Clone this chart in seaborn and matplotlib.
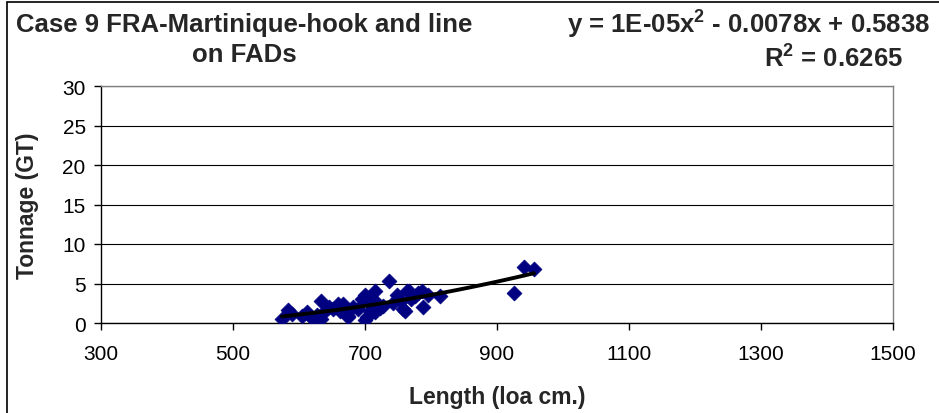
import numpy as np
import pandas as pd
import matplotlib
matplotlib.use("Agg")
import matplotlib.pyplot as plt
import seaborn as sns
from matplotlib.patches import Rectangle

# Length (loa cm.) and tonnage (GT)
length_cm = [574, 583, 590, 605, 612, 618, 621, 627, 634, 634, 640, 645, 652,
             659, 662, 667, 674, 674, 682, 690, 695, 700, 700, 703, 705, 708,
             712, 715, 715, 718, 722, 728, 737, 742, 748, 754, 758, 761, 763,
             766, 770, 776, 780, 786, 788, 795, 814, 925, 941, 956]
tonnage_gt = [0.5, 1.6, 1.2, 0.9, 1.4, 0.8, 0.5, 1.0, 2.8, 0.5, 1.5, 2.0, 1.8,
              2.4, 1.5, 2.4, 0.9, 0.8, 2.0, 1.8, 3.0, 3.5, 0.4, 0.8, 3.0, 1.5,
              2.0, 4.1, 1.4, 2.5, 1.9, 2.2, 5.3, 2.5, 3.5, 2.8, 1.8, 1.5, 4.1,
              4.1, 3.0, 3.4, 3.8, 4.1, 2.0, 3.5, 3.4, 3.8, 7.1, 6.8]

x_ticks = [300, 500, 700, 900, 1100, 1300, 1500]
y_ticks = [0, 5, 10, 15, 20, 25, 30]

title_text = "Case 9 FRA-Martinique-hook and line\non FADs"
eq_text = r"y = 1E-05x$^{\mathbf{2}}$ - 0.0078x + 0.5838"
r2_text = r"R$^{\mathbf{2}}$ = 0.6265"

df = pd.DataFrame({"length": length_cm, "tonnage": tonnage_gt})

sns.set_theme(style="white")
plt.rcParams["font.family"] = ["Liberation Sans", "DejaVu Sans"]
plt.rcParams["mathtext.fontset"] = "custom"
plt.rcParams["mathtext.bf"] = "Liberation Sans:bold"
plt.rcParams["mathtext.rm"] = "Liberation Sans:bold"

fig = plt.figure(figsize=(9.39, 4.14), dpi=100)
ax = fig.add_axes([101 / 939, 1 - 324 / 414, (893 - 101) / 939, (324 - 87) / 414])

sns.scatterplot(data=df, x="length", y="tonnage", ax=ax, marker="D", s=58,
                color="#000080", edgecolor="#000080", linewidth=0.5, zorder=3)
sns.regplot(data=df, x="length", y="tonnage", ax=ax, order=2, ci=None,
            scatter=False, truncate=True,
            line_kws={"color": "black", "lw": 2.8, "zorder": 4})

ax.set_xlim(300, 1500)
ax.set_ylim(0, 30)
ax.set_xticks(x_ticks)
ax.set_yticks(y_ticks)
ax.yaxis.grid(True, color="black", lw=0.8)
ax.set_axisbelow(True)
for side in ["top", "right"]:
    ax.spines[side].set_color("#808080")
    ax.spines[side].set_linewidth(1)
for side in ["left", "bottom"]:
    ax.spines[side].set_color("black")
    ax.spines[side].set_linewidth(1)
ax.tick_params(axis="both", direction="out", length=5, width=1, color="black",
               labelsize=15, labelcolor="black", left=True, bottom=True)
ax.tick_params(axis="x", pad=10)
ax.tick_params(axis="y", pad=6)

ax.set_xlabel("Length (loa cm.)", fontsize=16.5, fontweight="bold", labelpad=16)
ax.set_ylabel("Tonnage (GT)", fontsize=16.5, fontweight="bold", labelpad=17)

fig.text(244 / 939, 1 - 40 / 414, title_text, ha="center", va="center",
         fontsize=18.5, fontweight="bold", linespacing=1.33)
fig.text(930 / 939, 1 - 24 / 414, eq_text, ha="right", va="center",
         fontsize=18.5, fontweight="bold")
fig.text(834 / 939, 1 - 58 / 414, r2_text, ha="center", va="center",
         fontsize=18.5, fontweight="bold")

fig.patches.append(Rectangle((7 / 939, -0.05), 1.0, 1 - 3 / 414 + 0.05,
                             transform=fig.transFigure, fill=False,
                             edgecolor="black", lw=1.2))

fig.savefig("out.png", dpi=100)
